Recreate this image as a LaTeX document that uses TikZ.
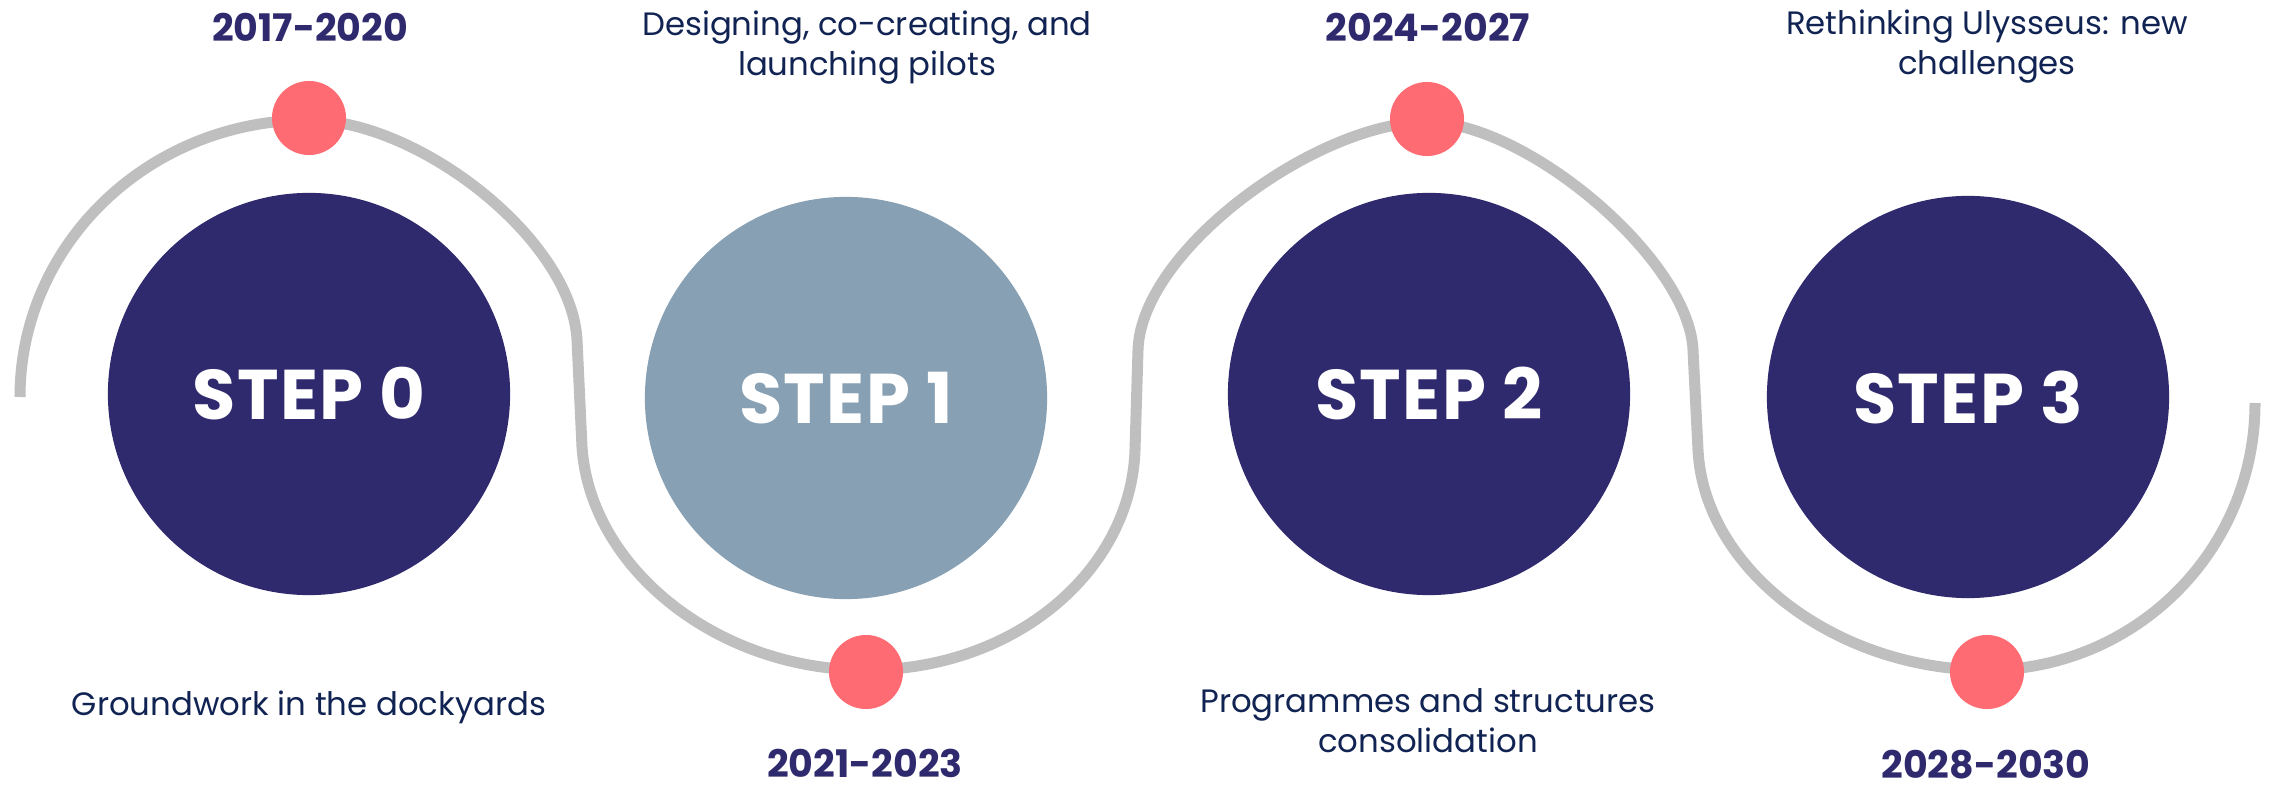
\documentclass[tikz,border=0pt]{standalone}
\usepackage{fontspec}
\setmainfont{Poppins}
\usepackage{tikz}
\usetikzlibrary{positioning}
\definecolor{tlNavy}{HTML}{2F2A6D}
\definecolor{tlSteel}{HTML}{88A0B3}
\definecolor{tlCoral}{HTML}{FF6B72}
\definecolor{tlTrack}{HTML}{BFBFBF}
\definecolor{tlInk}{HTML}{102352}
\tikzset{
  tl diagram/.style={x=0.01cm, y=-0.01cm, text=tlInk,
    font=\fontsize{9.2}{11.4}\selectfont},
  tl disc/.style={circle, fill=tlNavy, minimum size=4.02cm, inner sep=0pt,
    text=white, font=\bfseries\fontsize{20}{22}\selectfont\addfontfeature{LetterSpace=2}},
  tl disc muted/.style={tl disc, fill=tlSteel},
  tl dot/.style={circle, fill=tlCoral, minimum size=0.74cm, inner sep=0pt},
  tl year/.style={text=tlNavy, inner sep=0pt,
    font=\bfseries\fontsize{10.8}{13}\selectfont},
  tl note/.style={align=center, inner sep=0pt},
  tl track/.style={draw=tlTrack, line width=1.1mm}
}

\begin{document}
\begin{tikzpicture}[tl diagram]
\useasboundingbox (0,0) rectangle (2269,788);
% winding track behind the steps
\draw[tl track] (20,397) .. controls (20,244) and (149,120) .. (309,120)
  .. controls (419,120) and (572,240) .. (577,340) -- (582,447)
  .. controls (590,567) and (716,670) .. (866,670)
  .. controls (1016,670) and (1131,570) .. (1135,450) -- (1138,350)
  .. controls (1141,250) and (1317,122) .. (1427,122)
  .. controls (1527,122) and (1689,260) .. (1693,350) -- (1698,450)
  .. controls (1704,570) and (1837,670) .. (1987,670)
  .. controls (2135,670) and (2255,551) .. (2255,403);
\node[tl disc] (step0) at (309,394) {STEP 0};
\node[tl disc muted] (step1) at (846,398) {STEP 1};
\node[tl disc] (step2) at (1429,394) {STEP 2};
\node[tl disc] (step3) at (1968,397) {STEP 3};
\node[tl dot] (dot0) at (309,118) {};
\node[tl dot] (dot1) at (866,672) {};
\node[tl dot] (dot2) at (1427,119) {};
\node[tl dot] (dot3) at (1987,672) {};
\node[tl year] (year0) at (310,27) {2017-2020};
\node[tl year] (year1) at (865,763) {2021-2023};
\node[tl year] (year2) at (1428,27) {2024-2027};
\node[tl year] (year3) at (1986,765) {2028-2030};
\node[tl note] (note0) at (309,707) {Groundwork in the dockyards};
\node[tl note] (note1) at (867,48) {Designing, co-creating, and\\launching pilots};
\node[tl note] (note2) at (1428,721) {Programmes and structures\\consolidation};
\node[tl note] (note3) at (1987,47) {Rethinking Ulysseus: new\\challenges};
\end{tikzpicture}
\end{document}
